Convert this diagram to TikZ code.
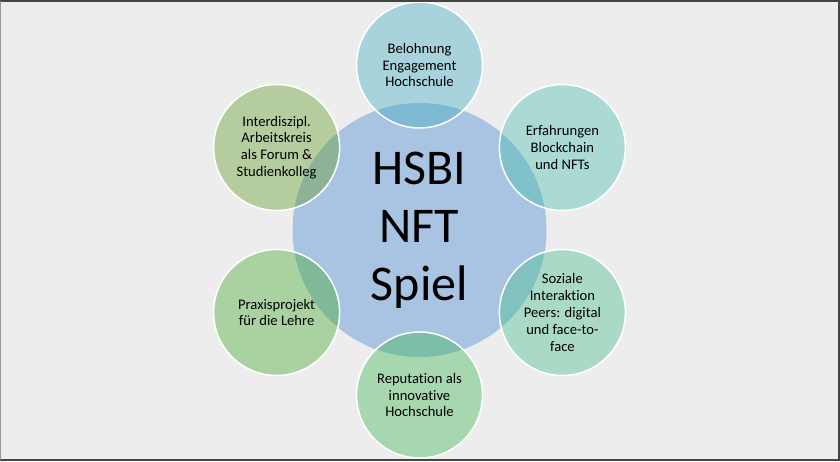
\documentclass[tikz,border=0pt]{standalone}
\usepackage{fontspec}
\setmainfont[Ligatures=NoCommon]{Carlito}
\usepackage{tikz}
\usetikzlibrary{calc}
\definecolor{bgGray}{RGB}{237,237,237}
\definecolor{frameDark}{RGB}{68,68,68}
\definecolor{frameLight}{RGB}{150,150,150}
\definecolor{hubBlue}{RGB}{169,196,226}
\definecolor{satTeal}{RGB}{65,172,195}
\definecolor{satAqua}{RGB}{70,190,172}
\definecolor{satMint}{RGB}{70,190,139}
\definecolor{satGreen}{RGB}{60,182,82}
\definecolor{satLeaf}{RGB}{67,170,45}
\definecolor{satOlive}{RGB}{97,155,42}
\tikzset{
  hub/.style={circle, fill=hubBlue, minimum size=254pt, inner sep=0pt,
    align=center, font=\fontsize{50}{58}\selectfont},
  sat/.style={circle, fill opacity=0.4, text opacity=1, draw=white,
    line width=1.5pt, minimum size=126pt, inner sep=0pt,
    align=center, font=\fontsize{14.6}{16.8}\selectfont},
}

\begin{document}
\begin{tikzpicture}[x=1pt,y=1pt]

\fill[bgGray] (0,0) rectangle (840,461);
\useasboundingbox (0,0) rectangle (840,461);

\node [hub] (hsbi) at (419.5,231) {HSBI\\NFT\\Spiel};
\node [sat, fill=satTeal] (belohnung) at ($(hsbi)+(90:165)$) {Belohnung\\Engagement\\Hochschule};
\node [sat, fill=satAqua] (erfahrung) at ($(hsbi)+(30:165)$) {Erfahrungen\\Blockchain\\und NFTs};
\node [sat, fill=satMint] (soziales) at ($(hsbi)+(-30:165)$) {Soziale\\Interaktion\\Peers: digital\\und face-to-\\face};
\node [sat, fill=satGreen] (reputation) at ($(hsbi)+(-90:165)$) {Reputation als\\innovative\\Hochschule};
\node [sat, fill=satLeaf] (praxis) at ($(hsbi)+(210:165)$) {Praxisprojekt\\f\"ur die Lehre};
\node [sat, fill=satOlive] (arbeitskreis) at ($(hsbi)+(150:165)$) {Interdiszipl.\\Arbeitskreis\\als Forum \&\\Studienkolleg};

% frame
\draw [line width=2pt, frameDark] (0,460) -- (839,460) -- (839,1) -- (0,1);
\draw [line width=1pt, frameLight] (0.5,1) -- (0.5,460);

\end{tikzpicture}
\end{document}
